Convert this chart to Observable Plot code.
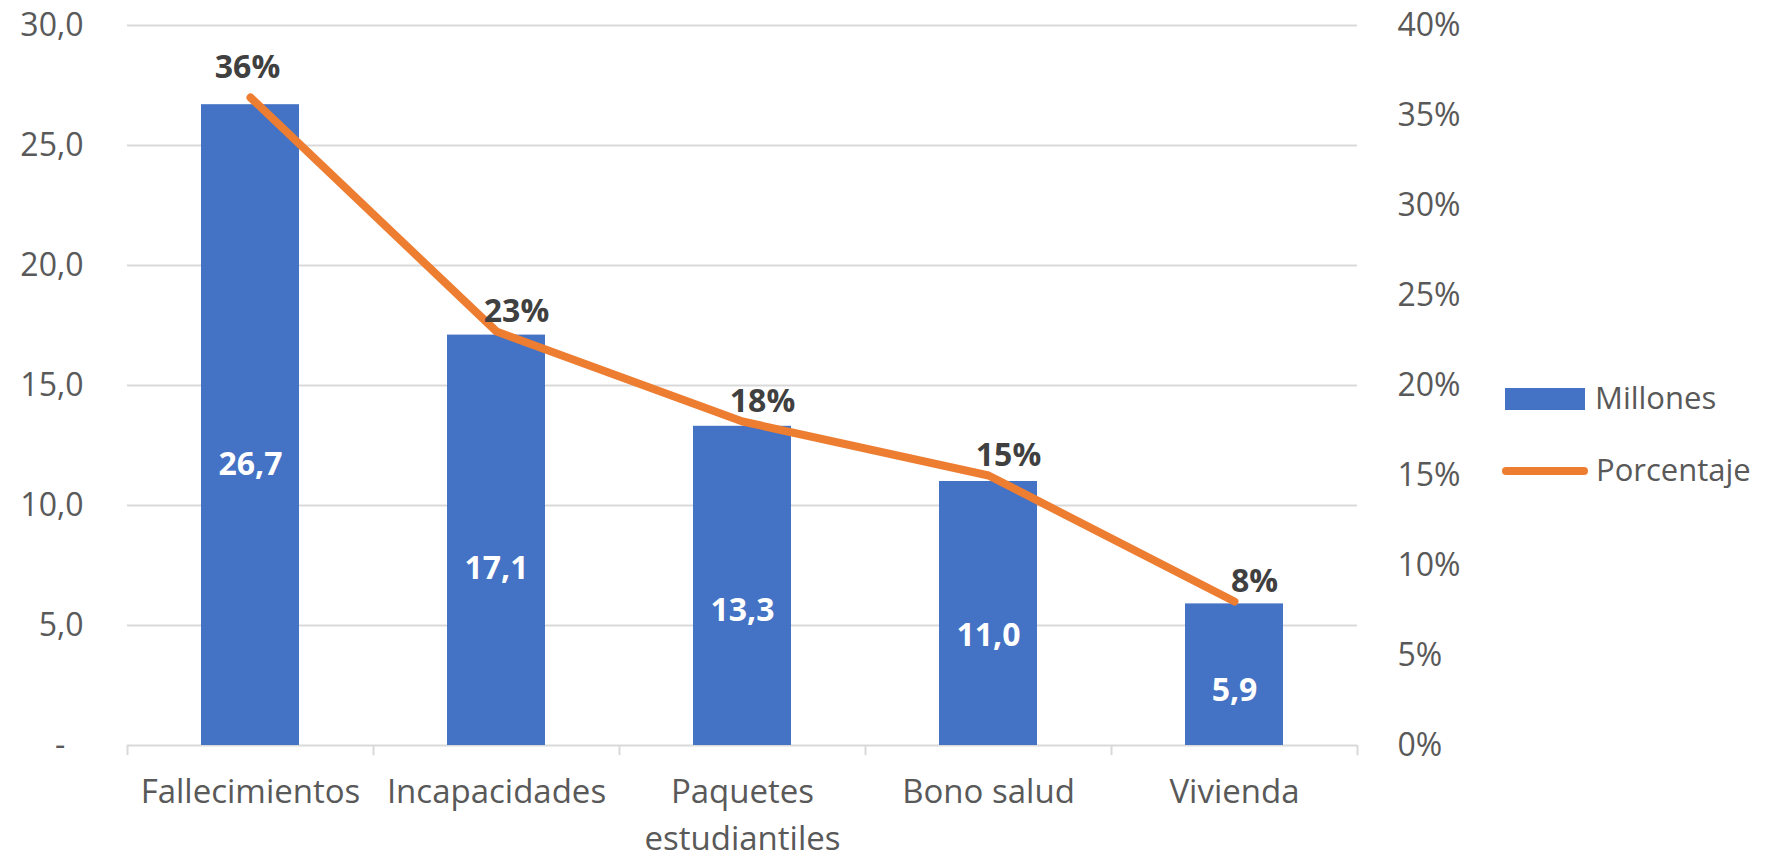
<!DOCTYPE html>
<html>
<head>
<meta charset="utf-8">
<script src="https://cdn.jsdelivr.net/npm/d3@7"></script>
<script src="https://cdn.jsdelivr.net/npm/@observablehq/plot@0.6"></script>
<style>
  html, body { margin: 0; padding: 0; background: #fff; }
  #wrap { position: relative; width: 1766px; height: 857px; font-family: "Open Sans", sans-serif; }
  #wrap svg { overflow: visible; }
  .leg-text { position: absolute; font-size: 31px; line-height: 31px; color: #595959; white-space: nowrap; }
  .leg-rect { position: absolute; background: #4472C4; }
  .leg-line { position: absolute; background: #ED7D31; border-radius: 4px; }
</style>
</head>
<body>
<div id="wrap"></div>
<script>
// ---- data ----
const categories = ["Fallecimientos", "Incapacidades", "Paquetes estudiantiles", "Bono salud", "Vivienda"];
const tickLabels = ["Fallecimientos", "Incapacidades", "Paquetes\nestudiantiles", "Bono salud", "Vivienda"];
const millones = [26.7, 17.1, 13.3, 11.0, 5.9];
const porcentaje = [36, 23, 18, 15, 8];
const leftTicks = [0, 5, 10, 15, 20, 25, 30];
const rightTicks = [0, 5, 10, 15, 20, 25, 30, 35, 40];
const seriesNames = ["Millones", "Porcentaje"];

const data = categories.map((c, i) => ({cat: c, v: millones[i], p: porcentaje[i]}));

const W = 1766, H = 857;
const ml = 127, mr = 409, mt = 25, mb = 112;
const step = (W - ml - mr) / categories.length;
const pctToY = p => p * 30 / 40;   // right axis 0-40% shares the left 0-30 range
const fmt = v => v.toFixed(1).replace(".", ",");
const grid = "#D9D9D9", txt = "#595959";

const chart = Plot.plot({
  width: W, height: H,
  marginLeft: ml, marginRight: mr, marginTop: mt, marginBottom: mb,
  style: {fontFamily: "Open Sans, sans-serif", fontSize: "32px", color: txt, background: "white", overflow: "visible"},
  x: {domain: categories, paddingInner: 0.6, paddingOuter: 0.3},
  y: {domain: [0, 30]},
  marks: [
    Plot.ruleY(leftTicks.filter(t => t > 0), {stroke: grid, strokeWidth: 2}),
    Plot.ruleY([0], {stroke: grid, strokeWidth: 2}),
    Plot.ruleX(categories, {x: d => d, y1: 0, y2: -0.42, dx: -step / 2, stroke: grid, strokeWidth: 2}),
    Plot.ruleX(categories.slice(-1), {x: d => d, y1: 0, y2: -0.42, dx: step / 2, stroke: grid, strokeWidth: 2}),
    Plot.barY(data, {x: "cat", y: "v", fill: "#4472C4"}),
    Plot.line(data, {x: "cat", y: d => pctToY(d.p), stroke: "#ED7D31", strokeWidth: 8,
      strokeLinecap: "round", strokeLinejoin: "round"}),
    Plot.text(data, {x: "cat", y: d => 0.452 * d.v - 0.38, text: d => fmt(d.v),
      fill: "white", fontWeight: "bold", fontSize: 32}),
    Plot.text(data.slice(0, 1), {x: "cat", y: d => pctToY(d.p), text: d => d.p + "%",
      fill: "#404040", fontWeight: "bold", fontSize: 32, lineAnchor: "bottom", dy: -20, dx: -3}),
    Plot.text(data.slice(1), {x: "cat", y: d => pctToY(d.p), text: d => d.p + "%",
      fill: "#404040", fontWeight: "bold", fontSize: 32, lineAnchor: "bottom", dy: -10, dx: 20}),
    Plot.axisY(leftTicks, {anchor: "left", tickSize: 0, tickPadding: 44, label: null,
      fill: txt, fontSize: 32,
      tickFormat: d => d === 0 ? "-\u2007" : fmt(d)}),
    Plot.axisY(rightTicks.map(pctToY), {anchor: "right", tickSize: 0, tickPadding: 40, label: null,
      fill: txt, fontSize: 32,
      tickFormat: d => Math.round(d * 40 / 30) + "%"}),
    Plot.axisX({anchor: "bottom", tickSize: 0, tickPadding: 25, label: null,
      fill: txt, fontSize: 33, lineHeight: 1.4,
      tickFormat: d => tickLabels[categories.indexOf(d)]})
  ]
});

const wrap = document.getElementById("wrap");
wrap.appendChild(chart);

// legend (HTML, placed in the right margin)
const rect = document.createElement("div");
rect.className = "leg-rect";
Object.assign(rect.style, {left: "1505px", top: "388px", width: "80px", height: "22px"});
wrap.appendChild(rect);
const t1 = document.createElement("div");
t1.className = "leg-text";
Object.assign(t1.style, {left: "1595px", top: "382px"});
t1.textContent = seriesNames[0];
wrap.appendChild(t1);
const ln = document.createElement("div");
ln.className = "leg-line";
Object.assign(ln.style, {left: "1502px", top: "467px", width: "86px", height: "8px"});
wrap.appendChild(ln);
const t2 = document.createElement("div");
t2.className = "leg-text";
Object.assign(t2.style, {left: "1596px", top: "454px"});
t2.textContent = seriesNames[1];
wrap.appendChild(t2);
</script>
</body>
</html>
